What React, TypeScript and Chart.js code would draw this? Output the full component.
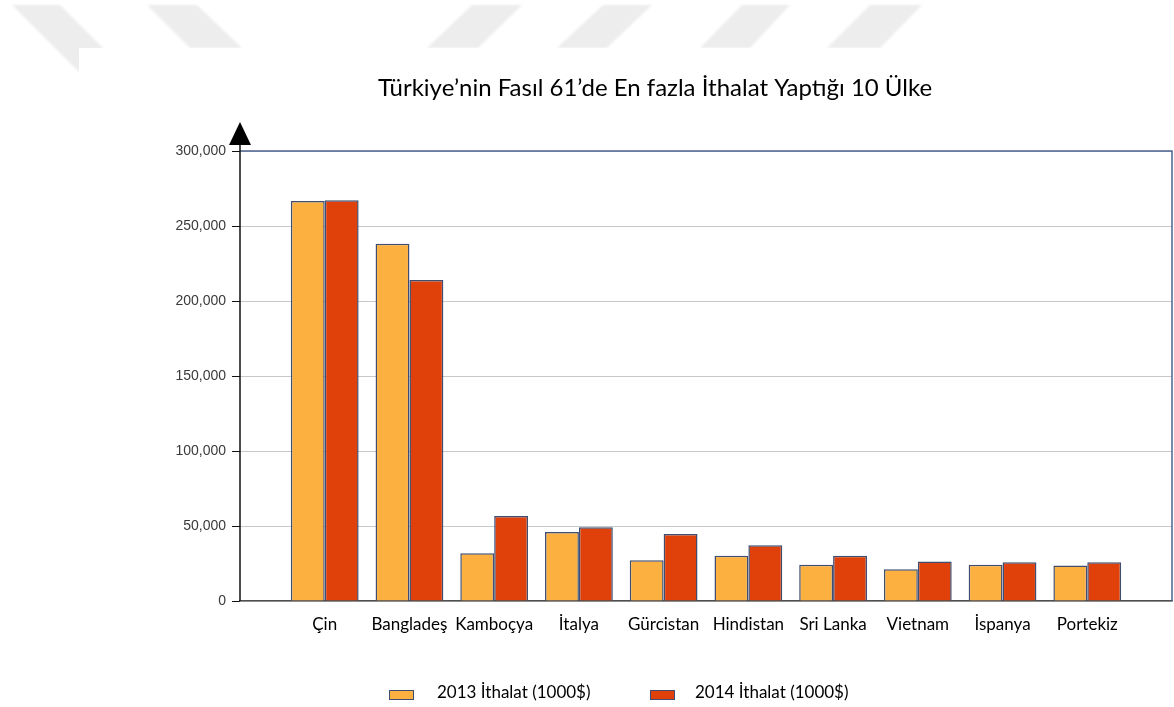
import React, { useEffect, useRef } from "react";
import { Chart, registerables } from "chart.js";

Chart.register(...registerables);

const chartTitle = "Türkiye’nin Fasıl 61’de En fazla İthalat Yaptığı 10 Ülke";
const countries = ["Çin", "Bangladeş", "Kamboçya", "İtalya", "Gürcistan", "Hindistan", "Sri Lanka", "Vietnam", "İspanya", "Portekiz"];
const imports2013 = [266700, 238200, 31800, 46000, 27100, 30200, 24200, 21100, 24200, 23600];
const imports2014 = [267100, 214000, 56700, 49100, 44700, 37100, 30200, 26400, 25800, 25800];
const seriesNames = ["2013 İthalat (1000$)", "2014 İthalat (1000$)"];
const seriesColors = ["#FBB040", "#E0400A"];
const barBorder = "#3E4D70";

// decorative watermark parallelograms at the top of the page: [topLeft, topRight, bottomLeft, bottomRight]
const watermark = [
  [12, 60, 82, 130],
  [147, 197, 190, 242],
  [472, 522, 427, 478],
  [603, 652, 557, 607],
  [742, 790, 700, 750],
  [870, 922, 827, 880],
];

export default function App() {
  const ref = useRef<HTMLCanvasElement | null>(null);

  useEffect(() => {
    document.body.style.margin = "0";
    const canvas = ref.current;
    if (!canvas) return;

    const labels = ["", ...countries, ""];
    const d2013 = [null, ...imports2013, null];
    const d2014 = [null, ...imports2014, null];

    const decor = {
      id: "decor",
      beforeDraw(chart: any) {
        const ctx = chart.ctx;
        ctx.save();
        ctx.fillStyle = "#EDEDED";
        ctx.filter = "blur(1px)";
        watermark.forEach(([tl, tr, bl, br], i) => {
          const yb = i === 0 ? 75 : 48;
          ctx.beginPath();
          ctx.moveTo(tl, 5);
          ctx.lineTo(tr, 5);
          ctx.lineTo(br, yb);
          ctx.lineTo(bl, yb);
          ctx.closePath();
          ctx.fill();
        });
        ctx.filter = "none";
        ctx.fillStyle = "#FFFFFF";
        ctx.fillRect(79, 48, 1174, 707);
        ctx.restore();
      },
      afterDraw(chart: any) {
        const ctx = chart.ctx;
        const a = chart.chartArea;
        ctx.save();
        // frame top and right
        ctx.strokeStyle = "#4E6390";
        ctx.lineWidth = 1.5;
        ctx.beginPath();
        ctx.moveTo(a.left, a.top);
        ctx.lineTo(a.right, a.top);
        ctx.lineTo(a.right, a.bottom);
        ctx.stroke();
        // left axis with arrow
        ctx.strokeStyle = "#111";
        ctx.lineWidth = 1.5;
        ctx.beginPath();
        ctx.moveTo(a.left, a.bottom);
        ctx.lineTo(a.left, a.top - 6);
        ctx.stroke();
        ctx.fillStyle = "#000";
        ctx.beginPath();
        ctx.moveTo(a.left, a.top - 29);
        ctx.lineTo(a.left + 11, a.top - 6);
        ctx.lineTo(a.left - 11, a.top - 6);
        ctx.closePath();
        ctx.fill();
        // title
        ctx.fillStyle = "#000";
        ctx.font = "24px Lato";
        ctx.textAlign = "center";
        ctx.textBaseline = "middle";
        ctx.fillText(chartTitle, 655, 88);
        // legend
        const items = [
          { x: 389, tx: 437 },
          { x: 650, tx: 695 },
        ];
        ctx.font = "17px Lato";
        ctx.textAlign = "left";
        items.forEach((it, i) => {
          ctx.fillStyle = seriesColors[i];
          ctx.fillRect(it.x, 690, 25, 10);
          ctx.strokeStyle = barBorder;
          ctx.lineWidth = 1;
          ctx.strokeRect(it.x + 0.5, 690.5, 24, 9);
          ctx.fillStyle = "#000";
          ctx.fillText(seriesNames[i], it.tx, 693);
        });
        ctx.restore();
      },
    };

    const chart = new Chart(canvas, {
      type: "bar",
      data: {
        labels,
        datasets: [
          {
            label: seriesNames[0],
            data: d2013,
            backgroundColor: seriesColors[0],
            borderColor: barBorder,
            borderWidth: 1.5,
          },
          {
            label: seriesNames[1],
            data: d2014,
            backgroundColor: seriesColors[1],
            borderColor: barBorder,
            borderWidth: 1.5,
          },
        ],
      },
      options: {
        responsive: false,
        animation: false,
        layout: { padding: { left: 0, right: 2, top: 151, bottom: 56 } },
        plugins: {
          legend: { display: false },
          title: { display: false },
          tooltip: { enabled: false },
        },
        datasets: { bar: { categoryPercentage: 0.8, barPercentage: 1.0 } },
        scales: {
          x: {
            offset: false,
            grid: { display: false, drawTicks: false },
            border: { display: true, color: "#505050", width: 1.5 },
            ticks: {
              autoSkip: false,
              maxRotation: 0,
              padding: 13,
              color: "#000",
              font: { family: "Lato", size: 17 },
            },
            afterFit(scale: any) {
              scale.height = 50;
              scale.paddingLeft = 0;
              scale.paddingRight = 0;
            },
          },
          y: {
            min: 0,
            max: 300000,
            grid: { color: "#C8C8C8", tickColor: "#111", tickLength: 8 },
            border: { display: false },
            ticks: {
              stepSize: 50000,
              padding: 6,
              color: "#3A3A3A",
              font: { family: "Liberation Sans", size: 14 },
              callback: (v: any) => Number(v).toLocaleString("en-US"),
            },
            afterFit(scale: any) {
              scale.width = 240;
              scale.paddingTop = 0;
              scale.paddingBottom = 0;
            },
          },
        },
      },
      plugins: [decor],
    });
    return () => chart.destroy();
  }, []);

  return <canvas ref={ref} width={1174} height={707} style={{ display: "block" }} />;
}
